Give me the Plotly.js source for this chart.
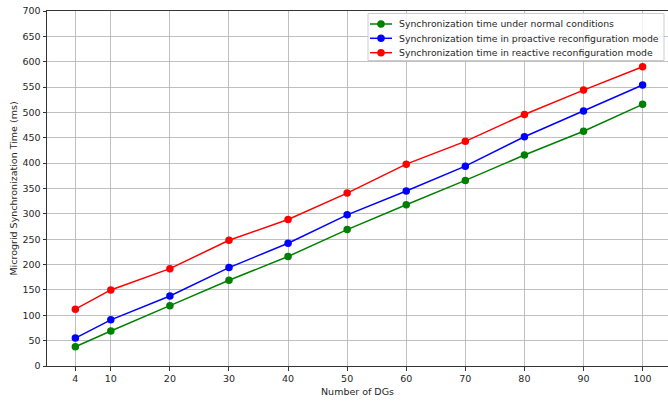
<!DOCTYPE html>
<html>
<head>
<meta charset="utf-8">
<script src="https://cdn.plot.ly/plotly-3.0.1.min.js"></script>
<style>html,body{margin:0;padding:0;background:#fff;}#chart{width:668px;height:401px;}</style>
</head>
<body>
<div id="chart"></div>
<script>
const dgs = [4, 10, 20, 30, 40, 50, 60, 70, 80, 90, 100];
const normalTime = [38, 69, 119, 169, 216, 269, 318, 366, 416, 463, 516];
const proactiveTime = [55, 91, 138, 194, 242, 298, 345, 394, 452, 503, 554];
const reactiveTime = [112, 150, 192, 248, 289, 341, 398, 443, 496, 544, 590];
const seriesNames = [
  'Synchronization time under normal conditions',
  'Synchronization time in proactive reconfiguration mode',
  'Synchronization time in reactive reconfiguration mode'
];
const seriesColors = ['#008000', '#0000ff', '#ff0000'];
const xTicks = [4, 10, 20, 30, 40, 50, 60, 70, 80, 90, 100];
const yTicks = [0, 50, 100, 150, 200, 250, 300, 350, 400, 450, 500, 550, 600, 650, 700];

const ys = [normalTime, proactiveTime, reactiveTime];
const traces = ys.map((y, i) => ({
  x: dgs, y: y, type: 'scatter', mode: 'lines+markers',
  name: seriesNames[i],
  line: {color: seriesColors[i], width: 1.5},
  marker: {color: seriesColors[i], size: 7.5},
  showlegend: false
}));

// plot-area geometry (pixels) used to place a matplotlib-style legend
const W = 668, H = 401, ML = 47, MR = 0, MT = 11, MB = 35;
const PW = W - ML - MR, PH = H - MT - MB;
const px = v => (v - ML) / PW;
const py = v => (H - MB - v) / PH;

const font = {family: 'DejaVu Sans, sans-serif', size: 9.5, color: '#262626'};
const legendFont = {family: 'DejaVu Sans, sans-serif', size: 9.3, color: '#262626'};

const shapes = [{
  type: 'rect', xref: 'paper', yref: 'paper', layer: 'above',
  x0: px(368), x1: px(664), y0: py(60.5), y1: py(13.5),
  fillcolor: 'rgba(255,255,255,0.8)', line: {color: '#cccccc', width: 1}
}];
const annotations = [];
const rowY = [24, 38.3, 52.7];
seriesNames.forEach((name, i) => {
  shapes.push({
    type: 'line', xref: 'paper', yref: 'paper', layer: 'above',
    x0: px(370), x1: px(392), y0: py(rowY[i]), y1: py(rowY[i]),
    line: {color: seriesColors[i], width: 1.5}
  });
  shapes.push({
    type: 'circle', xref: 'paper', yref: 'paper', layer: 'above',
    xsizemode: 'pixel', ysizemode: 'pixel',
    xanchor: px(381), yanchor: py(rowY[i]),
    x0: -3.75, x1: 3.75, y0: -3.75, y1: 3.75,
    fillcolor: seriesColors[i], line: {color: seriesColors[i], width: 0}
  });
  annotations.push({
    xref: 'paper', yref: 'paper', x: px(397), y: py(rowY[i]),
    xanchor: 'left', yanchor: 'middle', showarrow: false,
    text: name, font: legendFont
  });
});

const layout = {
  width: W, height: H,
  margin: {l: ML, r: MR, t: MT, b: MB},
  paper_bgcolor: '#fff', plot_bgcolor: '#fff',
  font: font,
  showlegend: false,
  shapes: shapes,
  annotations: annotations,
  xaxis: {
    range: [-0.8, 104.3],
    tickmode: 'array', tickvals: xTicks, ticktext: xTicks.map(String),
    showgrid: true, gridcolor: '#b0b0b0', gridwidth: 0.8,
    zeroline: false, showline: true, linecolor: '#333', linewidth: 1, mirror: true,
    ticks: 'outside', ticklen: 3.5, tickcolor: '#333',
    tickfont: font,
    title: {text: 'Number of DGs', font: font, standoff: 5}
  },
  yaxis: {
    range: [0, 700],
    tickmode: 'array', tickvals: yTicks, ticktext: yTicks.map(String),
    showgrid: true, gridcolor: '#b0b0b0', gridwidth: 0.8,
    zeroline: false, showline: true, linecolor: '#333', linewidth: 1, mirror: true,
    ticks: 'outside', ticklen: 3.5, tickcolor: '#333',
    tickfont: font,
    title: {text: 'Microgrid Synchronization Time (ms)', font: font, standoff: 3}
  }
};
Plotly.newPlot('chart', traces, layout, {displayModeBar: false, staticPlot: true});
</script>
</body>
</html>
